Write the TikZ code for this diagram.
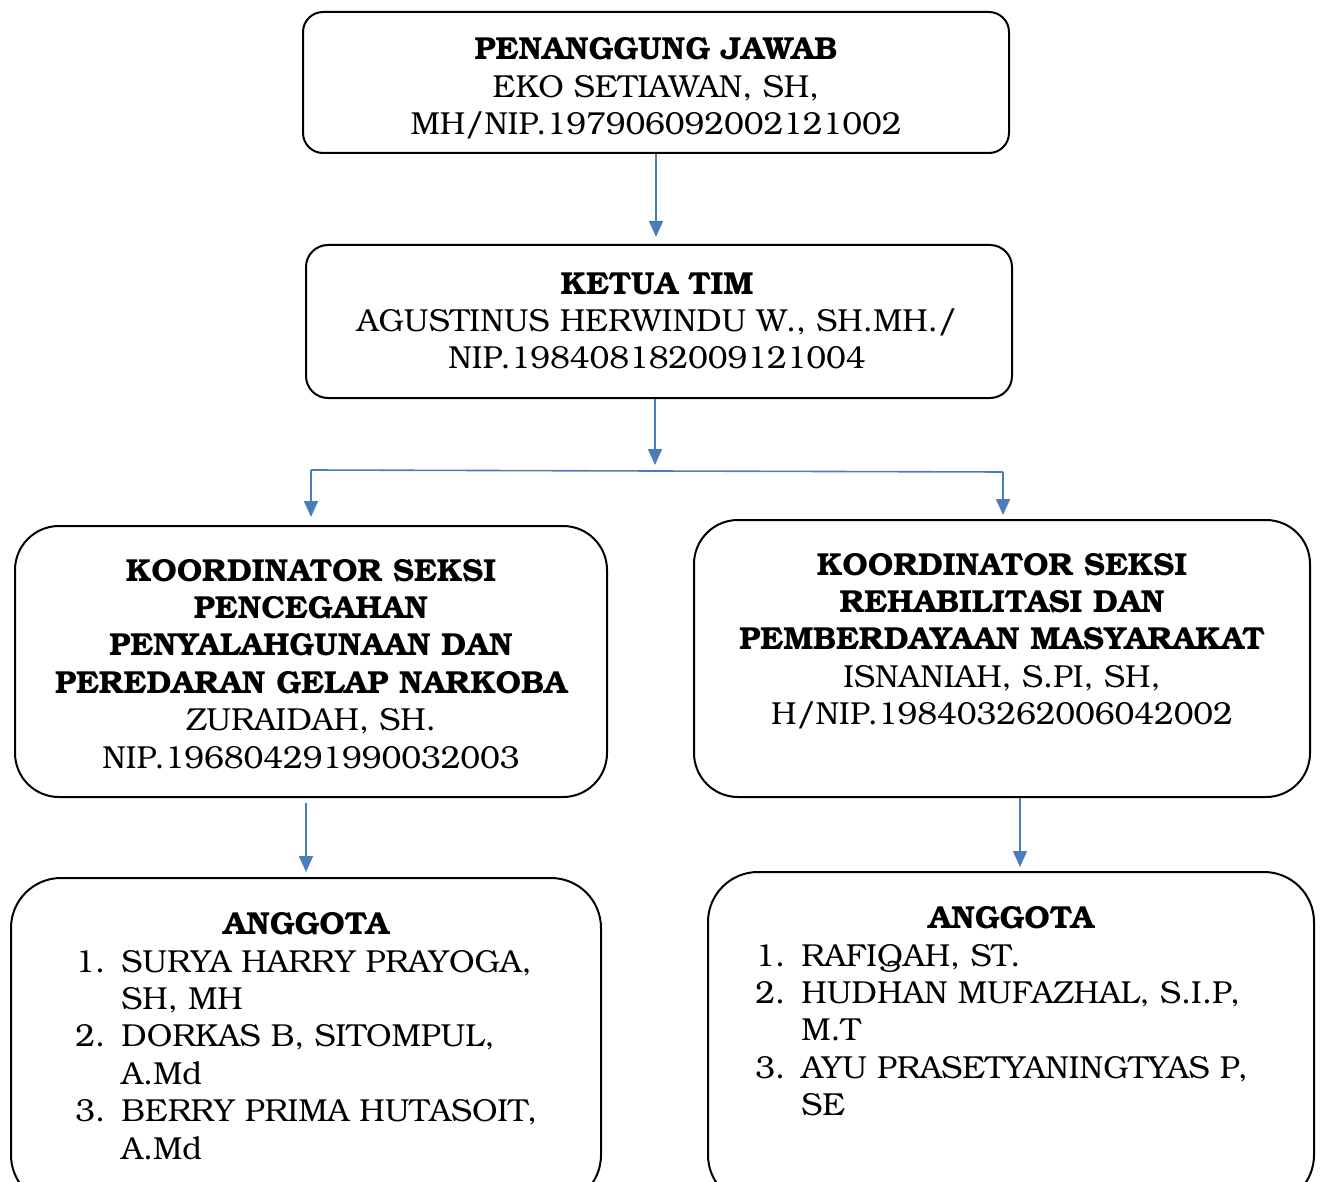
\documentclass[tikz,border=0pt]{standalone}
\usepackage[T1]{fontenc}
\usepackage{bookman}
\usetikzlibrary{arrows.meta}
\definecolor{conn}{HTML}{4A7EBB}
\tikzset{
  box/.style={draw=black, line width=1pt, inner sep=0pt},
  txt/.style={anchor=base, inner sep=0pt, font=\fontsize{15.9}{18.7}\selectfont},
  lst/.style={anchor=base west, inner sep=0pt, font=\fontsize{15.9}{18.7}\selectfont},
  conline/.style={draw=conn, line width=0.8pt},
  arr/.style={conline, -{Triangle[width=7pt,length=8pt]}}
}
\newcommand{\itm}[1]{\makebox[23pt][l]{#1}}
\begin{document}
\begin{tikzpicture}[x=0.5pt,y=-0.5pt]
\useasboundingbox (0,0) rectangle (1322,1182);
\clip (0,0) rectangle (1322,1182);
% boxes
\node[box, minimum width=353pt, minimum height=70.5pt, rounded corners=10pt] (b1) at (656,82.5) {};
\node[box, minimum width=353pt, minimum height=76.5pt, rounded corners=11pt] (b2) at (659,321.5) {};
\node[box, minimum width=296pt, minimum height=135.5pt, rounded corners=22pt] (b3) at (311,661.5) {};
\node[box, minimum width=308pt, minimum height=138.5pt, rounded corners=22pt] (b4) at (1002,658.5) {};
\node[box, minimum width=295pt, minimum height=163.5pt, rounded corners=25pt] (b5) at (306,1041.5) {};
\node[box, minimum width=303pt, minimum height=166.5pt, rounded corners=25pt] (b6) at (1011,1038.5) {};
% texts
\node[txt] (t1) at (656,60) {\begin{tabular}[t]{@{}c@{}}\textbf{PENANGGUNG JAWAB}\\EKO SETIAWAN, SH,\\MH/NIP.197906092002121002\end{tabular}};
\node[txt] (t2) at (657,294) {\begin{tabular}[t]{@{}c@{}}\textbf{KETUA TIM}\\AGUSTINUS HERWINDU W., SH.MH./\\NIP.198408182009121004\end{tabular}};
\node[txt] (t3) at (311,581) {\begin{tabular}[t]{@{}c@{}}\textbf{KOORDINATOR SEKSI}\\\textbf{PENCEGAHAN}\\\textbf{PENYALAHGUNAAN DAN}\\\textbf{PEREDARAN GELAP NARKOBA}\\ZURAIDAH, SH.\\NIP.196804291990032003\end{tabular}};
\node[txt] (t4) at (1002,575) {\begin{tabular}[t]{@{}c@{}}\textbf{KOORDINATOR SEKSI}\\\textbf{REHABILITASI DAN}\\\textbf{PEMBERDAYAAN MASYARAKAT}\\ISNANIAH, S.PI, SH,\\H/NIP.198403262006042002\end{tabular}};
\node[txt] (t5) at (306,934) {\textbf{ANGGOTA}};
\node[lst] (l5) at (75,972) {\begin{tabular}[t]{@{}l@{}}\itm{1.}SURYA HARRY PRAYOGA,\\\itm{}SH, MH\\\itm{2.}DORKAS B, SITOMPUL,\\\itm{}A.Md\\\itm{3.}BERRY PRIMA HUTASOIT,\\\itm{}A.Md\end{tabular}};
\node[txt] (t6) at (1011,928) {\textbf{ANGGOTA}};
\node[lst] (l6) at (755,966) {\begin{tabular}[t]{@{}l@{}}\itm{1.}RAFIQAH, ST.\\\itm{2.}HUDHAN MUFAZHAL, S.I.P,\\\itm{}M.T\\\itm{3.}AYU PRASETYANINGTYAS P,\\\itm{}SE\end{tabular}};
% connectors
\coordinate (hl) at (311,470);
\coordinate (hr) at (1003,472);
\draw[arr, shorten >=3.5pt] (b1.south) -- (b1.south |- b2.north);
\draw[arr, shorten >=2.5pt] ([xshift=-2pt]b2.south) -- ([xshift=-2pt]b2.south |- hl);
\draw[conline] (hl) -- (hr);
\draw[arr, shorten >=4pt] (hl) -- (hl |- b3.north);
\draw[arr, shorten >=2pt] (hr) -- (hr |- b4.north);
\draw[arr, shorten <=2.5pt, shorten >=2.5pt] (b5.north |- b3.south) -- (b5.north);
\draw[arr, shorten >=2pt] ([xshift=4.5pt]b6.north |- b4.south) -- ([xshift=4.5pt]b6.north);
\end{tikzpicture}
\end{document}
